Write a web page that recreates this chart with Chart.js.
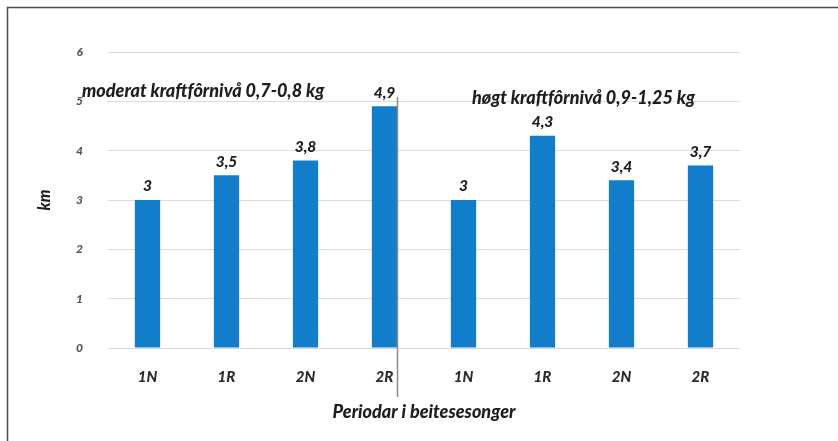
<!DOCTYPE html>
<html>
<head>
<meta charset="utf-8">
<script src="https://cdn.jsdelivr.net/npm/chart.js@4/dist/chart.umd.min.js"></script>
<style>
  html, body { margin: 0; padding: 0; background: #ffffff; }
  #wrap { width: 838px; height: 441px; }
</style>
</head>
<body>
<div id="wrap"><canvas id="c" width="838" height="441"></canvas></div>
<script>
// Periods in the grazing season, two feeding levels of four periods each
const categories = ['1N', '1R', '2N', '2R', '1N', '1R', '2N', '2R'];
const distanceKm = [3, 3.5, 3.8, 4.9, 3, 4.3, 3.4, 3.7];
const yTicks = [0, 1, 2, 3, 4, 5, 6];
const groupLabels = ['moderat kraftfôrnivå 0,7-0,8 kg', 'høgt kraftfôrnivå 0,9-1,25 kg'];
const yTitle = 'km';
const xTitle = 'Periodar i beitesesonger';

const FONT = 'Lato, "Open Sans", sans-serif';
const HEAVY = '900';

// White page with a thin frame on the top and left
const framePlugin = {
  id: 'frame',
  beforeDraw(chart) {
    const ctx = chart.ctx;
    ctx.save();
    ctx.fillStyle = '#ffffff';
    ctx.fillRect(0, 0, chart.width, chart.height);
    ctx.strokeStyle = '#4a4a4a';
    ctx.lineWidth = 1.5;
    ctx.strokeRect(7.5, 7.5, chart.width + 20, chart.height + 20);
    ctx.restore();
  }
};

// Value above each bar, group captions and the separator between groups
const annotatePlugin = {
  id: 'annotate',
  afterDatasetsDraw(chart) {
    const ctx = chart.ctx;
    const meta = chart.getDatasetMeta(0);
    const area = chart.chartArea;
    ctx.save();
    ctx.fillStyle = '#1e1e1e';
    ctx.textAlign = 'center';
    ctx.textBaseline = 'bottom';
    ctx.font = 'italic ' + HEAVY + ' 15.5px ' + FONT;
    meta.data.forEach((bar, i) => {
      const txt = String(distanceKm[i]).replace('.', ',');
      ctx.fillText(txt, bar.x, bar.y - 6);
    });

    // separator right of the last bar in the first group
    const sepBar = meta.data[3];
    const sx = Math.round(sepBar.x + sepBar.width / 2) + 0.5;
    ctx.strokeStyle = '#8a8a8a';
    ctx.lineWidth = 1.5;
    ctx.beginPath();
    ctx.moveTo(sx, area.top + 45);
    ctx.lineTo(sx, area.bottom + 49);
    ctx.stroke();

    // group captions
    ctx.font = 'italic ' + HEAVY + ' 18px ' + FONT;
    ctx.textAlign = 'left';
    ctx.textBaseline = 'middle';
    ctx.fillText(groupLabels[0], area.left - 26, area.top + 39);
    ctx.fillText(groupLabels[1], area.left + 364, area.top + 46);
    ctx.restore();
  }
};

new Chart(document.getElementById('c'), {
  type: 'bar',
  data: {
    labels: categories,
    datasets: [{
      data: distanceKm,
      backgroundColor: '#127dca',
      borderWidth: 0,
      categoryPercentage: 1,
      barPercentage: 0.32
    }]
  },
  options: {
    responsive: false,
    animation: false,
    devicePixelRatio: 1,
    layout: { padding: { top: 52, right: 98, left: 0, bottom: 0 } },
    plugins: {
      legend: { display: false },
      tooltip: { enabled: false }
    },
    scales: {
      x: {
        afterFit(scale) { scale.height = 93; },
        grid: { display: false, drawTicks: false },
        border: { display: false },
        ticks: {
          color: '#2a2a2a',
          padding: 20,
          font: { family: FONT, size: 15, style: 'italic', weight: HEAVY }
        },
        title: {
          display: true,
          text: xTitle,
          color: '#1e1e1e',
          padding: { top: 0, bottom: 18 },
          font: { family: FONT, size: 18, style: 'italic', weight: HEAVY }
        }
      },
      y: {
        min: 0,
        max: 6,
        afterFit(scale) { scale.width = 108; },
        afterBuildTicks(scale) { scale.ticks = yTicks.map(v => ({ value: v })); },
        grid: { color: '#dcdcdc', lineWidth: 1, drawTicks: false },
        border: { display: false },
        ticks: {
          color: '#555555',
          padding: 25,
          font: { family: FONT, size: 12, style: 'italic', weight: HEAVY }
        },
        title: {
          display: true,
          text: yTitle,
          color: '#1e1e1e',
          padding: { top: 35, bottom: 0 },
          font: { family: FONT, size: 16, style: 'italic', weight: HEAVY }
        }
      }
    }
  },
  plugins: [framePlugin, annotatePlugin]
});
</script>
</body>
</html>
